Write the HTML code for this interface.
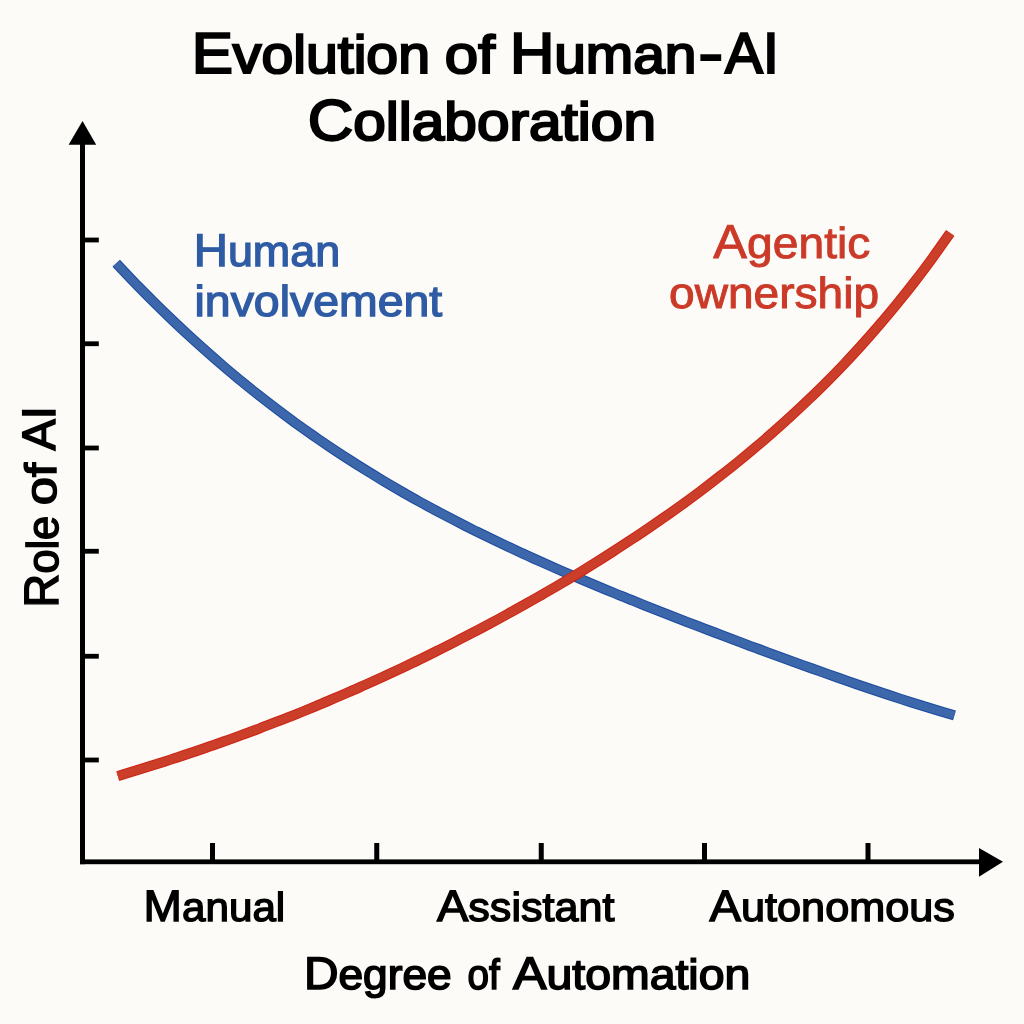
<!DOCTYPE html>
<html lang="en">
<head>
<meta charset="utf-8">
<title>Evolution of Human-AI Collaboration</title>
<style>
html,body{margin:0;padding:0;background:#fcfbf8;}
body{width:1024px;height:1024px;overflow:hidden;}
#chart{position:relative;width:1024px;height:1024px;overflow:hidden;background:#fcfbf8;}
#chart svg{position:absolute;left:0;top:0;display:block;}
.w{position:absolute;left:0;top:0;margin:0;padding:0;white-space:nowrap;line-height:0;transform-origin:0 0;
font-family:"Liberation Sans",Arial,Helvetica,sans-serif;font-weight:400;font-kerning:none;
-webkit-text-stroke-color:currentColor;paint-order:stroke fill;text-rendering:geometricPrecision;}
.w.c::first-letter{font-size:var(--c);}
</style>
</head>
<body>
<div id="chart">
<svg width="1024" height="1024" viewBox="0 0 1024 1024">
<g fill="#000">
<rect x="80" y="140" width="5" height="724.2"/>
<rect x="80" y="859.4" width="902" height="4.8"/>
<polygon points="82.5,121 96.2,144.8 68.6,144.8"/>
<polygon points="1003,861.7 979,848 979,876.8"/>
<rect x="84" y="237.60" width="14.8" height="4.8"/><rect x="84" y="341.35" width="14.8" height="4.8"/><rect x="84" y="445.60" width="14.8" height="4.8"/><rect x="84" y="548.85" width="14.8" height="4.8"/><rect x="84" y="653.85" width="14.8" height="4.8"/><rect x="84" y="757.60" width="14.8" height="4.8"/><rect x="210.00" y="843" width="5" height="17"/><rect x="374.25" y="843" width="5" height="17"/><rect x="538.75" y="843" width="5" height="17"/><rect x="702.00" y="843" width="5" height="17"/><rect x="865.50" y="843" width="5" height="17"/>
</g>
<path d="M116.2 263.2C119.2 266.4 128.1 275.9 134.0 282.0C140.0 288.1 145.9 294.2 151.9 300.1C157.8 306.0 163.8 311.8 169.7 317.5C175.6 323.2 181.6 328.8 187.5 334.3C193.5 339.8 199.4 345.2 205.4 350.4C211.3 355.7 217.3 360.9 223.2 366.0C229.1 371.1 235.1 376.0 241.0 380.9C247.0 385.8 252.9 390.6 258.9 395.3C264.8 399.9 270.8 404.5 276.7 409.0C282.7 413.5 288.6 417.9 294.5 422.3C300.5 426.6 306.4 430.8 312.4 435.0C318.3 439.1 324.3 443.2 330.2 447.2C336.2 451.2 342.1 455.1 348.0 458.9C354.0 462.8 359.9 466.5 365.9 470.2C371.8 473.9 377.8 477.5 383.7 481.1C389.7 484.6 395.6 488.1 401.5 491.5C407.5 494.9 413.4 498.3 419.4 501.6C425.3 504.8 431.3 508.1 437.2 511.3C443.2 514.4 449.1 517.5 455.0 520.6C461.0 523.7 466.9 526.7 472.9 529.7C478.8 532.6 484.8 535.6 490.7 538.4C496.7 541.3 502.6 544.1 508.5 546.9C514.5 549.7 520.4 552.5 526.4 555.2C532.3 557.9 538.3 560.6 544.2 563.2C550.2 565.9 556.1 568.5 562.1 571.1C568.0 573.7 573.9 576.2 579.9 578.8C585.8 581.3 591.8 583.8 597.7 586.3C603.7 588.7 609.6 591.2 615.6 593.6C621.5 596.0 627.4 598.5 633.4 600.8C639.3 603.2 645.3 605.6 651.2 608.0C657.2 610.3 663.1 612.7 669.1 615.0C675.0 617.3 680.9 619.6 686.9 621.9C692.8 624.2 698.8 626.5 704.7 628.8C710.7 631.0 716.6 633.3 722.6 635.5C728.5 637.8 734.4 640.0 740.4 642.2C746.3 644.5 752.3 646.7 758.2 648.9C764.2 651.1 770.1 653.3 776.1 655.5C782.0 657.6 787.9 659.8 793.9 662.0C799.8 664.1 805.8 666.3 811.7 668.4C817.7 670.5 823.6 672.6 829.6 674.7C835.5 676.8 841.5 678.9 847.4 681.0C853.3 683.0 859.3 685.1 865.2 687.1C871.2 689.1 877.1 691.1 883.1 693.1C889.0 695.1 895.0 697.1 900.9 699.0C906.8 700.9 912.8 702.8 918.7 704.7C924.7 706.5 930.6 708.4 936.6 710.2C942.5 711.9 951.4 714.5 954.4 715.4" fill="none" stroke="#1b4a9f" stroke-width="10.2"/>
<path d="M116.2 263.2C119.2 266.4 128.1 275.9 134.0 282.0C140.0 288.1 145.9 294.2 151.9 300.1C157.8 306.0 163.8 311.8 169.7 317.5C175.6 323.2 181.6 328.8 187.5 334.3C193.5 339.8 199.4 345.2 205.4 350.4C211.3 355.7 217.3 360.9 223.2 366.0C229.1 371.1 235.1 376.0 241.0 380.9C247.0 385.8 252.9 390.6 258.9 395.3C264.8 399.9 270.8 404.5 276.7 409.0C282.7 413.5 288.6 417.9 294.5 422.3C300.5 426.6 306.4 430.8 312.4 435.0C318.3 439.1 324.3 443.2 330.2 447.2C336.2 451.2 342.1 455.1 348.0 458.9C354.0 462.8 359.9 466.5 365.9 470.2C371.8 473.9 377.8 477.5 383.7 481.1C389.7 484.6 395.6 488.1 401.5 491.5C407.5 494.9 413.4 498.3 419.4 501.6C425.3 504.8 431.3 508.1 437.2 511.3C443.2 514.4 449.1 517.5 455.0 520.6C461.0 523.7 466.9 526.7 472.9 529.7C478.8 532.6 484.8 535.6 490.7 538.4C496.7 541.3 502.6 544.1 508.5 546.9C514.5 549.7 520.4 552.5 526.4 555.2C532.3 557.9 538.3 560.6 544.2 563.2C550.2 565.9 556.1 568.5 562.1 571.1C568.0 573.7 573.9 576.2 579.9 578.8C585.8 581.3 591.8 583.8 597.7 586.3C603.7 588.7 609.6 591.2 615.6 593.6C621.5 596.0 627.4 598.5 633.4 600.8C639.3 603.2 645.3 605.6 651.2 608.0C657.2 610.3 663.1 612.7 669.1 615.0C675.0 617.3 680.9 619.6 686.9 621.9C692.8 624.2 698.8 626.5 704.7 628.8C710.7 631.0 716.6 633.3 722.6 635.5C728.5 637.8 734.4 640.0 740.4 642.2C746.3 644.5 752.3 646.7 758.2 648.9C764.2 651.1 770.1 653.3 776.1 655.5C782.0 657.6 787.9 659.8 793.9 662.0C799.8 664.1 805.8 666.3 811.7 668.4C817.7 670.5 823.6 672.6 829.6 674.7C835.5 676.8 841.5 678.9 847.4 681.0C853.3 683.0 859.3 685.1 865.2 687.1C871.2 689.1 877.1 691.1 883.1 693.1C889.0 695.1 895.0 697.1 900.9 699.0C906.8 700.9 912.8 702.8 918.7 704.7C924.7 706.5 930.6 708.4 936.6 710.2C942.5 711.9 951.4 714.5 954.4 715.4" fill="none" stroke="#3c67aa" stroke-width="8.2"/>
<path d="M117.8 776.1C120.7 775.2 129.6 772.5 135.5 770.7C141.4 768.9 147.3 767.0 153.2 765.2C159.1 763.3 165.0 761.4 170.9 759.5C176.8 757.6 182.7 755.6 188.6 753.6C194.5 751.7 200.4 749.7 206.3 747.6C212.2 745.6 218.1 743.5 224.0 741.4C229.9 739.3 235.8 737.2 241.7 735.0C247.6 732.9 253.5 730.7 259.5 728.4C265.4 726.2 271.3 723.9 277.2 721.6C283.1 719.4 289.0 717.0 294.9 714.7C300.8 712.3 306.7 709.9 312.6 707.5C318.5 705.0 324.4 702.6 330.3 700.0C336.2 697.5 342.1 695.0 348.0 692.4C353.9 689.9 359.8 687.2 365.7 684.6C371.6 682.0 377.5 679.3 383.4 676.6C389.3 673.8 395.2 671.1 401.2 668.3C407.1 665.5 413.0 662.7 418.9 659.8C424.8 657.0 430.7 654.1 436.6 651.1C442.5 648.2 448.4 645.2 454.3 642.2C460.2 639.2 466.1 636.2 472.0 633.1C477.9 630.0 483.8 626.9 489.7 623.7C495.6 620.6 501.5 617.4 507.4 614.1C513.3 610.9 519.2 607.6 525.1 604.3C531.0 601.0 537.0 597.6 542.9 594.2C548.8 590.8 554.7 587.4 560.6 583.9C566.5 580.4 572.4 576.9 578.3 573.3C584.2 569.7 590.1 566.0 596.0 562.4C601.9 558.7 607.8 554.9 613.7 551.1C619.6 547.4 625.5 543.5 631.4 539.6C637.3 535.7 643.2 531.8 649.1 527.7C655.0 523.7 660.9 519.6 666.8 515.5C672.8 511.3 678.7 507.1 684.6 502.8C690.5 498.5 696.4 494.2 702.3 489.7C708.2 485.3 714.1 480.8 720.0 476.1C725.9 471.5 731.8 466.9 737.7 462.1C743.6 457.3 749.5 452.4 755.4 447.4C761.3 442.5 767.2 437.4 773.1 432.2C779.0 427.0 784.9 421.7 790.8 416.3C796.7 410.9 802.6 405.4 808.5 399.7C814.5 394.1 820.4 388.3 826.3 382.4C832.2 376.4 838.1 370.4 844.0 364.2C849.9 357.9 855.8 351.6 861.7 345.0C867.6 338.5 873.5 331.8 879.4 324.9C885.3 318.1 891.2 311.0 897.1 303.8C903.0 296.5 908.9 289.1 914.8 281.5C920.7 273.8 926.6 266.0 932.5 257.9C938.4 249.8 947.3 237.1 950.2 233.0" fill="none" stroke="#cf2414" stroke-width="10.2"/>
<path d="M117.8 776.1C120.7 775.2 129.6 772.5 135.5 770.7C141.4 768.9 147.3 767.0 153.2 765.2C159.1 763.3 165.0 761.4 170.9 759.5C176.8 757.6 182.7 755.6 188.6 753.6C194.5 751.7 200.4 749.7 206.3 747.6C212.2 745.6 218.1 743.5 224.0 741.4C229.9 739.3 235.8 737.2 241.7 735.0C247.6 732.9 253.5 730.7 259.5 728.4C265.4 726.2 271.3 723.9 277.2 721.6C283.1 719.4 289.0 717.0 294.9 714.7C300.8 712.3 306.7 709.9 312.6 707.5C318.5 705.0 324.4 702.6 330.3 700.0C336.2 697.5 342.1 695.0 348.0 692.4C353.9 689.9 359.8 687.2 365.7 684.6C371.6 682.0 377.5 679.3 383.4 676.6C389.3 673.8 395.2 671.1 401.2 668.3C407.1 665.5 413.0 662.7 418.9 659.8C424.8 657.0 430.7 654.1 436.6 651.1C442.5 648.2 448.4 645.2 454.3 642.2C460.2 639.2 466.1 636.2 472.0 633.1C477.9 630.0 483.8 626.9 489.7 623.7C495.6 620.6 501.5 617.4 507.4 614.1C513.3 610.9 519.2 607.6 525.1 604.3C531.0 601.0 537.0 597.6 542.9 594.2C548.8 590.8 554.7 587.4 560.6 583.9C566.5 580.4 572.4 576.9 578.3 573.3C584.2 569.7 590.1 566.0 596.0 562.4C601.9 558.7 607.8 554.9 613.7 551.1C619.6 547.4 625.5 543.5 631.4 539.6C637.3 535.7 643.2 531.8 649.1 527.7C655.0 523.7 660.9 519.6 666.8 515.5C672.8 511.3 678.7 507.1 684.6 502.8C690.5 498.5 696.4 494.2 702.3 489.7C708.2 485.3 714.1 480.8 720.0 476.1C725.9 471.5 731.8 466.9 737.7 462.1C743.6 457.3 749.5 452.4 755.4 447.4C761.3 442.5 767.2 437.4 773.1 432.2C779.0 427.0 784.9 421.7 790.8 416.3C796.7 410.9 802.6 405.4 808.5 399.7C814.5 394.1 820.4 388.3 826.3 382.4C832.2 376.4 838.1 370.4 844.0 364.2C849.9 357.9 855.8 351.6 861.7 345.0C867.6 338.5 873.5 331.8 879.4 324.9C885.3 318.1 891.2 311.0 897.1 303.8C903.0 296.5 908.9 289.1 914.8 281.5C920.7 273.8 926.6 266.0 932.5 257.9C938.4 249.8 947.3 237.1 950.2 233.0" fill="none" stroke="#cb3f2a" stroke-width="8.2"/>
</svg>
<div class="w c" id="t1" style="font-size:53.3px;color:#000;-webkit-text-stroke-width:2.2px;transform:translate(191.65px,53.90px) scaleX(1.0728);--c:57.6px">Evolution</div>
<div class="w" id="t2" style="font-size:53.3px;color:#000;-webkit-text-stroke-width:2.2px;transform:translate(444.80px,55.90px) scaleX(1.1248)">of</div>
<div class="w c" id="t3" style="font-size:53.3px;color:#000;-webkit-text-stroke-width:2.2px;transform:translate(509.90px,53.90px) scaleX(1.0660);--c:57.6px">Human</div>
<div class="w" id="t4" style="font-size:57.6px;color:#000;-webkit-text-stroke-width:2.2px;transform:translate(698.59px,53.90px) scaleX(1.2799)">-</div>
<div class="w" id="t5" style="font-size:57.6px;color:#000;-webkit-text-stroke-width:2.2px;transform:translate(725.09px,53.90px) scaleX(0.9846)">AI</div>
<div class="w c" id="t6" style="font-size:53.3px;color:#000;-webkit-text-stroke-width:2.2px;transform:translate(307.67px,120.70px) scaleX(1.0987);--c:57.4px">Collaboration</div>
<div class="w c" id="b1" style="font-size:43.4px;color:#2e5ba4;-webkit-text-stroke-width:1.35px;transform:translate(193.70px,250.60px) scaleX(1.0341);--c:45.8px">Human</div>
<div class="w" id="b2" style="font-size:43.4px;color:#2e5ba4;-webkit-text-stroke-width:1.35px;transform:translate(194.55px,302.10px) scaleX(1.0695)">involvement</div>
<div class="w c" id="r1" style="font-size:43.6px;color:#cb3a28;-webkit-text-stroke-width:0.9px;transform:translate(713.32px,243.30px) scaleX(1.0599);--c:47.7px">Agentic</div>
<div class="w" id="r2" style="font-size:43.6px;color:#cb3a28;-webkit-text-stroke-width:0.95px;transform:translate(669.03px,294.40px) scaleX(1.0567)">ownership</div>
<div class="w c" id="a1" style="font-size:40.5px;color:#000;-webkit-text-stroke-width:1.4px;transform:translate(143.59px,907.20px) scaleX(1.0423);--c:44.2px">Manual</div>
<div class="w c" id="a2" style="font-size:40.5px;color:#000;-webkit-text-stroke-width:1.4px;transform:translate(436.89px,907.20px) scaleX(1.0648);--c:44.2px">Assistant</div>
<div class="w c" id="a3" style="font-size:40.5px;color:#000;-webkit-text-stroke-width:1.4px;transform:translate(709.54px,907.20px) scaleX(1.0675);--c:44.2px">Autonomous</div>
<div class="w c" id="x1" style="font-size:42.3px;color:#000;-webkit-text-stroke-width:1.6px;transform:translate(303.93px,973.50px) scaleX(1.0456);--c:45.8px">Degree</div>
<div class="w" id="x2" style="font-size:42.3px;color:#000;-webkit-text-stroke-width:1.6px;transform:translate(467.57px,974.50px) scaleX(0.9132)">of</div>
<div class="w c" id="x3" style="font-size:42.3px;color:#000;-webkit-text-stroke-width:1.6px;transform:translate(512.88px,973.50px) scaleX(1.0978);--c:45.8px">Automation</div>
<div class="w c" id="y1" style="font-size:44.3px;color:#000;-webkit-text-stroke-width:1.5px;transform:translate(42.10px,607.75px) rotate(-90deg) scaleX(0.9782);--c:48.3px">Role</div>
<div class="w" id="y2" style="font-size:44px;color:#000;-webkit-text-stroke-width:1.5px;transform:translate(42.00px,505.19px) rotate(-90deg) scaleX(1.1543)">of</div>
<div class="w" id="y3" style="font-size:47px;color:#000;-webkit-text-stroke-width:1.5px;transform:translate(38.90px,450.48px) rotate(-90deg) scaleX(0.9965)">AI</div>
</div>
</body>
</html>
